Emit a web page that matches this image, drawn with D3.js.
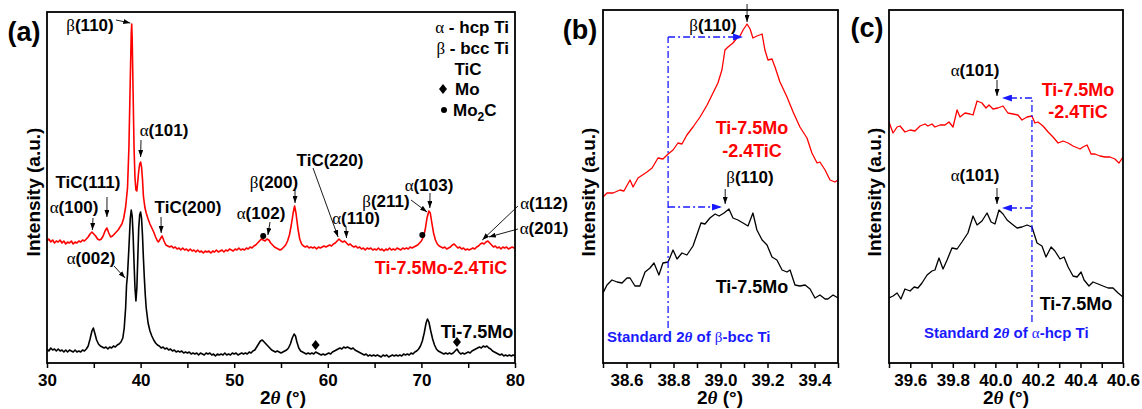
<!DOCTYPE html>
<html>
<head>
<meta charset="utf-8">
<script src="https://cdn.jsdelivr.net/npm/d3@7/dist/d3.min.js"></script>
<style>
  body { margin: 0; background: #fff; }
  text { font-family: "Liberation Sans", Arial, sans-serif; font-weight: bold; }
</style>
</head>
<body>
<script>
// ---- data: [2theta, intensity (a.u.)] ----
const redA = [[30.0,122],[30.2,124],[30.4,121],[30.6,123],[30.8,120],[31.0,122],[31.2,121],[31.4,123],[31.6,120],[31.8,122],[32.0,119],[32.2,121],[32.4,120],[32.6,122],[32.8,119],[33.0,121],[33.2,120],[33.4,122],[33.6,121],[33.8,123],[34.0,122],[34.2,124],[34.4,126],[34.6,129],[34.8,131],[35.0,129],[35.2,127],[35.4,124],[35.6,123],[35.8,124],[36.0,127],[36.2,132],[36.4,135],[36.6,130],[36.8,126],[37.0,127],[37.2,129],[37.4,131],[37.6,133],[37.8,136],[38.0,139],[38.2,145],[38.4,156],[38.6,175],[38.75,215],[38.9,285],[39.0,330],[39.05,339],[39.1,325],[39.2,270],[39.3,215],[39.4,185],[39.5,173],[39.6,172],[39.7,182],[39.8,192],[39.9,199],[40.0,201],[40.1,196],[40.2,184],[40.3,167],[40.45,156],[40.6,150],[40.8,144],[41.0,139],[41.2,135],[41.4,131],[41.6,126],[41.8,122],[41.9,121],[42.1,124],[42.3,127],[42.5,122],[42.7,118],[42.9,117],[43.1,116],[43.3,117],[43.5,115],[43.7,116],[43.9,114],[44.1,115],[44.3,113],[44.5,115],[44.7,113],[44.9,114],[45.1,112],[45.3,114],[45.5,112],[45.7,113],[45.9,111],[46.1,113],[46.3,111],[46.5,112],[46.7,110],[46.9,112],[47.1,111],[47.3,112],[47.5,110],[47.7,112],[47.9,111],[48.1,113],[48.3,111],[48.5,112],[48.7,113],[48.9,111],[49.1,113],[49.3,112],[49.5,114],[49.7,113],[49.9,112],[50.1,114],[50.3,113],[50.5,115],[50.7,113],[50.9,114],[51.1,113],[51.3,115],[51.5,114],[51.7,116],[51.9,115],[52.1,117],[52.3,118],[52.5,120],[52.7,122],[52.9,124],[53.1,123],[53.3,122],[53.5,124],[53.7,123],[53.9,120],[54.1,118],[54.3,116],[54.5,115],[54.7,114],[54.9,113],[55.1,114],[55.3,116],[55.5,118],[55.7,122],[55.9,128],[56.1,138],[56.3,150],[56.45,157],[56.6,150],[56.8,135],[57.0,124],[57.2,119],[57.4,117],[57.6,116],[57.8,117],[58.0,115],[58.2,116],[58.4,115],[58.6,116],[58.8,114],[59.0,116],[59.2,115],[59.4,116],[59.6,117],[59.8,116],[60.0,117],[60.2,118],[60.4,117],[60.6,119],[60.8,120],[61.0,122],[61.2,124],[61.4,122],[61.6,121],[61.8,122],[62.0,120],[62.2,118],[62.4,119],[62.6,117],[62.8,116],[63.0,117],[63.2,115],[63.4,116],[63.6,114],[63.8,115],[64.0,113],[64.2,115],[64.4,114],[64.6,115],[64.8,113],[65.0,114],[65.2,113],[65.4,115],[65.6,113],[65.8,114],[66.0,112],[66.2,114],[66.4,113],[66.6,115],[66.8,113],[67.0,114],[67.2,113],[67.4,115],[67.6,114],[67.8,113],[68.0,115],[68.2,114],[68.4,115],[68.6,114],[68.8,116],[69.0,115],[69.2,116],[69.4,117],[69.6,118],[69.8,120],[70.0,122],[70.2,126],[70.4,133],[70.6,145],[70.8,152],[70.95,150],[71.1,141],[71.3,130],[71.5,123],[71.7,119],[71.9,117],[72.1,116],[72.3,115],[72.5,116],[72.7,114],[72.9,115],[73.1,116],[73.3,118],[73.5,119],[73.7,117],[73.9,115],[74.1,116],[74.3,114],[74.5,115],[74.7,113],[74.9,114],[75.1,113],[75.3,114],[75.5,115],[75.7,114],[75.9,116],[76.1,117],[76.3,119],[76.5,120],[76.7,119],[76.9,121],[77.1,122],[77.3,120],[77.5,118],[77.7,116],[77.9,117],[78.1,115],[78.3,116],[78.5,114],[78.7,116],[78.9,115],[79.1,116],[79.3,114],[79.5,115],[79.7,116],[79.9,115],[80.0,116]];

const blackA = [[30.0,14],[30.2,12],[30.4,15],[30.6,13],[30.8,14],[31.0,12],[31.2,14],[31.4,12],[31.6,13],[31.8,11],[32.0,13],[32.2,11],[32.4,13],[32.6,12],[32.8,11],[33.0,13],[33.2,11],[33.4,12],[33.6,11],[33.8,13],[34.0,12],[34.2,14],[34.4,17],[34.6,24],[34.8,32],[34.95,35],[35.1,30],[35.3,23],[35.5,19],[35.7,17],[35.9,16],[36.1,15],[36.3,16],[36.5,14],[36.7,16],[36.9,15],[37.1,17],[37.3,16],[37.5,18],[37.7,19],[37.9,21],[38.1,25],[38.25,35],[38.4,55],[38.5,78],[38.6,88],[38.75,115],[38.9,145],[39.0,153],[39.1,147],[39.2,128],[39.3,100],[39.4,75],[39.5,62],[39.6,75],[39.7,105],[39.8,135],[39.9,148],[40.0,151],[40.1,145],[40.2,128],[40.3,105],[40.4,85],[40.5,68],[40.6,55],[40.8,40],[41.0,32],[41.2,27],[41.4,23],[41.6,20],[41.8,18],[42.0,17],[42.2,15],[42.4,16],[42.6,14],[42.8,15],[43.0,13],[43.2,14],[43.4,12],[43.6,13],[43.8,11],[44.0,12],[44.2,11],[44.4,12],[44.6,10],[44.8,11],[45.0,10],[45.2,11],[45.4,9],[45.6,10],[45.8,9],[46.0,10],[46.2,8],[46.4,10],[46.6,9],[46.8,8],[47.0,10],[47.2,9],[47.4,10],[47.6,8],[47.8,9],[48.0,7],[48.2,9],[48.4,8],[48.6,9],[48.8,8],[49.0,10],[49.2,8],[49.4,9],[49.6,8],[49.8,10],[50.0,9],[50.2,10],[50.4,8],[50.6,9],[50.8,10],[51.0,9],[51.2,10],[51.4,9],[51.6,11],[51.8,10],[52.0,12],[52.2,13],[52.4,16],[52.6,19],[52.8,22],[53.0,23],[53.2,21],[53.4,19],[53.6,17],[53.8,15],[54.0,13],[54.2,12],[54.4,11],[54.6,12],[54.8,11],[55.0,10],[55.2,11],[55.4,12],[55.6,13],[55.8,15],[56.0,19],[56.2,25],[56.4,29],[56.55,27],[56.7,21],[56.9,15],[57.1,12],[57.3,11],[57.5,10],[57.7,9],[57.9,10],[58.1,9],[58.3,10],[58.5,9],[58.7,11],[58.9,10],[59.1,9],[59.3,8],[59.5,9],[59.7,8],[59.9,9],[60.1,10],[60.3,9],[60.5,11],[60.7,12],[60.9,13],[61.1,14],[61.3,15],[61.5,14],[61.7,16],[61.9,15],[62.1,16],[62.3,15],[62.5,14],[62.7,15],[62.9,13],[63.1,12],[63.3,11],[63.5,10],[63.7,9],[63.9,8],[64.1,9],[64.3,7],[64.5,8],[64.7,7],[64.9,8],[65.1,7],[65.3,8],[65.5,7],[65.7,6],[65.9,8],[66.1,7],[66.3,8],[66.5,6],[66.7,7],[66.9,8],[67.1,7],[67.3,8],[67.5,7],[67.7,8],[67.9,7],[68.1,9],[68.3,8],[68.5,9],[68.7,8],[68.9,10],[69.1,9],[69.3,11],[69.5,12],[69.7,14],[69.9,17],[70.1,22],[70.3,30],[70.5,40],[70.65,44],[70.8,41],[71.0,32],[71.2,24],[71.4,18],[71.6,14],[71.8,12],[72.0,11],[72.2,10],[72.4,9],[72.6,10],[72.8,9],[73.0,10],[73.2,9],[73.4,10],[73.6,12],[73.8,14],[74.0,11],[74.2,9],[74.4,10],[74.6,9],[74.8,10],[75.0,11],[75.2,10],[75.4,12],[75.6,13],[75.8,14],[76.0,15],[76.2,16],[76.4,15],[76.6,17],[76.8,16],[77.0,17],[77.2,15],[77.4,14],[77.6,12],[77.8,11],[78.0,10],[78.2,9],[78.4,8],[78.6,9],[78.8,7],[79.0,8],[79.2,7],[79.4,8],[79.6,7],[79.8,8],[80.0,7]];

const redB = [[38.500,166],[38.517,170],[38.543,170],[38.572,173],[38.589,172],[38.615,183],[38.628,176],[38.649,185],[38.687,191],[38.709,195],[38.734,205],[38.755,204],[38.777,209],[38.798,213],[38.819,220],[38.836,219],[38.857,228],[38.883,236],[38.913,246],[38.943,258],[38.968,270],[38.989,280],[39.006,293],[39.019,313],[39.032,316],[39.053,320],[39.070,325],[39.083,327],[39.096,333],[39.113,339],[39.126,334],[39.138,325],[39.155,327],[39.177,329],[39.189,313],[39.202,303],[39.219,304],[39.232,296],[39.253,281],[39.283,266],[39.309,251],[39.338,236],[39.368,225],[39.389,210],[39.411,200],[39.423,201],[39.445,193],[39.466,183],[39.487,181],[39.500,183]];

const blackB = [[38.500,70],[38.517,78],[38.538,83],[38.560,81],[38.581,80],[38.602,85],[38.615,85],[38.636,77],[38.657,77],[38.679,91],[38.700,95],[38.717,100],[38.738,88],[38.755,100],[38.777,101],[38.798,113],[38.815,104],[38.836,110],[38.857,108],[38.883,117],[38.917,140],[38.934,139],[38.955,145],[38.977,149],[38.994,147],[39.015,150],[39.036,154],[39.053,145],[39.074,143],[39.096,140],[39.117,137],[39.138,150],[39.155,133],[39.177,123],[39.198,118],[39.219,106],[39.240,103],[39.262,93],[39.283,91],[39.296,93],[39.317,78],[39.338,77],[39.360,78],[39.381,74],[39.402,65],[39.423,68],[39.445,64],[39.457,64],[39.479,68],[39.500,65]];

const redC = [[39.500,241],[39.519,230],[39.538,236],[39.552,237],[39.575,231],[39.599,233],[39.622,232],[39.646,237],[39.669,239],[39.683,237],[39.702,239],[39.716,236],[39.740,238],[39.763,238],[39.782,241],[39.801,236],[39.820,253],[39.834,246],[39.857,250],[39.881,249],[39.895,248],[39.914,262],[39.937,260],[39.956,255],[39.970,258],[39.989,254],[40.012,255],[40.036,257],[40.059,250],[40.083,249],[40.106,248],[40.125,243],[40.149,246],[40.172,247],[40.186,240],[40.200,241],[40.224,237],[40.248,231],[40.271,226],[40.295,220],[40.318,222],[40.342,220],[40.365,217],[40.398,214],[40.412,216],[40.431,218],[40.450,209],[40.468,209],[40.492,207],[40.515,206],[40.539,206],[40.562,204],[40.581,200],[40.600,206]];

const blackC = [[39.500,65],[39.519,67],[39.538,70],[39.556,64],[39.575,74],[39.599,72],[39.618,76],[39.636,75],[39.655,80],[39.679,88],[39.702,92],[39.716,93],[39.735,105],[39.754,94],[39.773,103],[39.796,115],[39.820,114],[39.843,121],[39.871,130],[39.895,147],[39.914,138],[39.937,142],[39.961,150],[39.980,141],[39.998,139],[40.017,153],[40.036,149],[40.055,143],[40.078,139],[40.102,135],[40.125,136],[40.149,138],[40.172,136],[40.196,120],[40.219,117],[40.238,106],[40.262,116],[40.280,112],[40.304,104],[40.323,106],[40.342,96],[40.365,87],[40.384,86],[40.403,91],[40.417,83],[40.440,77],[40.459,81],[40.483,79],[40.506,77],[40.530,75],[40.553,75],[40.577,70],[40.600,66]];

// phase markers in panel (a)
const mo2cDots = [[53.1,125],[70.1,126]];
const moDiamonds = [[58.7,15],[73.8,18]];

// standard peak positions (2theta) and shift arrows
const stdBeta = 38.777, stdAlpha = 40.172;

// axis ticks
const ticksA = [30,35,40,45,50,55,60,65,70,75,80];
const labelsA = [30,40,50,60,70,80];
const ticksB = [38.5,38.6,38.7,38.8,38.9,39.0,39.1,39.2,39.3,39.4,39.5];
const labelsB = ['38.6','38.8','39.0','39.2','39.4'];
const ticksC = [39.5,39.6,39.7,39.8,39.9,40.0,40.1,40.2,40.3,40.4,40.5,40.6];
const labelsC = ['39.6','39.8','40.0','40.2','40.4','40.6'];

const RED = '#ff0000', BLUE = '#1a1aff';
const width = 1142, height = 409;

let svg = d3.select('body').append('svg')
    .attr('width', width)
    .attr('height', height);

let defs = svg.append('defs');
function arrowMarker(id, color, w, h) {
  defs.append('marker')
      .attr('id', id)
      .attr('markerUnits', 'userSpaceOnUse')
      .attr('markerWidth', w).attr('markerHeight', h)
      .attr('refX', w).attr('refY', h / 2)
      .attr('orient', 'auto')
      .append('path')
      .attr('d', `M0,0 L${w},${h/2} L0,${h} Z`)
      .attr('fill', color);
}
arrowMarker('ah', '#000', 7, 5);
arrowMarker('ahb', BLUE, 10, 7);

// text with greek letters in a serif face
function richText(g, str, x, y, opts = {}) {
  let t = g.append('text')
      .attr('x', x).attr('y', y)
      .attr('dy', opts.dy || '0.35em')
      .attr('text-anchor', opts.anchor || 'middle')
      .attr('fill', opts.color || '#000')
      .style('font-size', (opts.size || 17) + 'px');
  str.split(/([αβθ])/).forEach(p => {
    if (!p) return;
    let s = t.append('tspan').text(p);
    if (/[αβθ]/.test(p)) {
      s.style('font-family', '"Liberation Serif", "DejaVu Serif", serif').style('font-weight', 'normal');
      if (p === 'θ') s.style('font-style', 'italic').style('font-weight', 'bold');
    }
  });
  return t;
}

function drawPanel(cfg) {
  let x = d3.scaleLinear().domain(cfg.xDomain).range([cfg.left, cfg.right]);
  let y = d3.scaleLinear().domain(cfg.yDomain).range([cfg.bottom, cfg.top]);
  let g = svg.append('g');

  let line = d3.line().x(d => x(d[0])).y(d => y(d[1]));

  g.append('clipPath').attr('id', 'clip' + cfg.name)
      .append('rect')
      .attr('x', cfg.left).attr('y', cfg.top)
      .attr('width', cfg.right - cfg.left).attr('height', cfg.bottom - cfg.top);

  cfg.series.forEach(s => {
    g.append('path')
        .datum(s.data)
        .attr('clip-path', `url(#clip${cfg.name})`)
        .attr('fill', 'none')
        .attr('stroke', s.color)
        .attr('stroke-width', cfg.lw)
        .attr('stroke-linejoin', 'round')
        .attr('d', line);
  });

  // x axis
  let axis = d3.axisBottom(x)
      .tickValues(cfg.ticks)
      .tickSizeOuter(0)
      .tickSize(5)
      .tickFormat(d => {
        let s = cfg.fmt(d);
        return cfg.labels.map(String).includes(s) ? s : '';
      });
  let ax = g.append('g')
      .attr('transform', `translate(0,${cfg.bottom})`)
      .call(axis);
  ax.select('.domain').remove();
  ax.selectAll('line').attr('stroke', '#000').attr('stroke-width', 1.5);
  ax.selectAll('text')
      .attr('y', 11)
      .style('font-size', '17px')
      .style('font-family', '"Liberation Sans", Arial, sans-serif')
      .style('font-weight', 'bold')
      .attr('fill', '#000');

  // frame
  g.append('rect')
      .attr('x', cfg.left).attr('y', cfg.top)
      .attr('width', cfg.right - cfg.left).attr('height', cfg.bottom - cfg.top)
      .attr('fill', 'none').attr('stroke', '#000').attr('stroke-width', 1.8);

  // axis titles
  richText(g, '2θ (°)', cfg.xTitle, 404, { size: 19, dy: '0em' });
  g.append('text')
      .attr('transform', `translate(${cfg.yTitle},192) rotate(-90)`)
      .attr('text-anchor', 'middle')
      .attr('dy', '0.35em')
      .style('font-size', '19px')
      .text('Intensity (a.u.)');
  g.append('text')
      .attr('x', cfg.tag[0]).attr('y', cfg.tag[1])
      .attr('text-anchor', 'middle').attr('dy', '0.35em')
      .style('font-size', '27px')
      .text(cfg.tagText);

  return { x, y, g };
}

function arrow(g, x1, y1, x2, y2, opts = {}) {
  g.append('line')
      .attr('x1', x1).attr('y1', y1).attr('x2', x2).attr('y2', y2)
      .attr('stroke', opts.color || '#000')
      .attr('stroke-width', opts.w || 0.9)
      .attr('stroke-dasharray', opts.dash || null)
      .attr('marker-end', opts.head === false ? null : `url(#${opts.marker || 'ah'})`);
}

// ---------------- panel (a) ----------------
let A = drawPanel({
  name: 'A', left: 47, right: 515, top: 12, bottom: 363,
  xDomain: [30, 80], yDomain: [0, 351],
  ticks: ticksA, labels: labelsA, fmt: d => String(d),
  series: [{ data: blackA, color: '#000' }, { data: redA, color: RED }],
  lw: 1.6, xTitle: 283, yTitle: 33, tag: [24, 32], tagText: '(a)'
});

A.g.selectAll('.dot').data(mo2cDots).enter().append('circle')
    .attr('cx', d => A.x(d[0])).attr('cy', d => A.y(d[1]) - 2).attr('r', 3).attr('fill', '#000');
A.g.selectAll('.dia').data(moDiamonds).enter().append('path')
    .attr('transform', d => `translate(${A.x(d[0])},${A.y(d[1]) - 3})`)
    .attr('d', 'M0,-5 L4,0 L0,5 L-4,0 Z').attr('fill', '#000');

const annA = [
  { t: 'β(110)', at: [90, 25], from: [116, 20], to: [38.9, 340] },
  { t: 'α(101)', at: [164, 130], from: [141, 140], to: [40.0, 206] },
  { t: 'TiC(111)', at: [88, 182], from: [107, 197], to: [36.4, 146] },
  { t: 'α(100)', at: [74, 207], from: [93, 218], to: [34.85, 133] },
  { t: 'TiC(200)', at: [188, 207], from: [161, 217], to: [42.2, 130] },
  { t: 'α(102)', at: [261, 213], from: [270, 222], to: [53.6, 128] },
  { t: 'β(200)', at: [274, 182], from: [295, 190], to: [56.5, 160] },
  { t: 'TiC(220)', at: [330, 160], from: [313, 168], to: [61.1, 126] },
  { t: 'α(110)', at: [356, 218], from: [346, 227], to: [62.0, 125] },
  { t: 'β(211)', at: [386, 201], from: [411, 200], to: [70.6, 151] },
  { t: 'α(103)', at: [429, 185], from: [430, 193], to: [70.9, 155] },
  { t: 'α(112)', at: [544, 203], from: [518, 206], to: [76.5, 123] },
  { t: 'α(201)', at: [544, 228], from: [518, 229], to: [77.2, 126] },
  { t: 'α(002)', at: [91, 258], from: [114, 266], to: [38.35, 85] }
];
annA.forEach(a => {
  richText(A.g, a.t, a.at[0], a.at[1]);
  arrow(A.g, a.from[0], a.from[1], A.x(a.to[0]), A.y(a.to[1]));
});

richText(A.g, 'Ti-7.5Mo-2.4TiC', 441, 268, { size: 18, color: RED });
richText(A.g, 'Ti-7.5Mo', 477, 332, { size: 18 });

// legend
richText(A.g, 'α - hcp Ti', 509, 27, { anchor: 'end' });
richText(A.g, 'β - bcc Ti', 509, 48, { anchor: 'end' });
richText(A.g, 'TiC', 468, 69);
A.g.append('path').attr('transform', 'translate(443,89)')
    .attr('d', 'M0,-5 L4,0 L0,5 L-4,0 Z').attr('fill', '#000');
richText(A.g, 'Mo', 455, 89, { anchor: 'start' });
A.g.append('circle').attr('cx', 444).attr('cy', 110).attr('r', 3).attr('fill', '#000');
let mo2c = A.g.append('text').attr('x', 453).attr('y', 110).attr('dy', '0.35em').style('font-size', '17px');
mo2c.append('tspan').text('Mo');
mo2c.append('tspan').text('2').attr('dy', 5).style('font-size', '12px');
mo2c.append('tspan').text('C').attr('dy', -5);

// ---------------- panel (b) ----------------
let B = drawPanel({
  name: 'B', left: 603, right: 838, top: 10, bottom: 363,
  xDomain: [38.5, 39.5], yDomain: [0, 353],
  ticks: ticksB, labels: labelsB, fmt: d => d.toFixed(1),
  series: [{ data: redB, color: RED }, { data: blackB, color: '#000' }],
  lw: 1.3, xTitle: 720, yTitle: 588, tag: [580, 30], tagText: '(b)'
});
{
  let xs = B.x(stdBeta);
  arrow(B.g, xs, B.y(35), xs, B.y(326), { color: BLUE, w: 1.3, dash: '7,3,2,3', head: false });
  arrow(B.g, xs, B.y(326), B.x(39.096), B.y(326), { color: BLUE, w: 1.3, dash: '7,3,2,3', marker: 'ahb' });
  arrow(B.g, xs, B.y(156), B.x(39.006), B.y(156), { color: BLUE, w: 1.3, dash: '7,3,2,3', marker: 'ahb' });
  richText(B.g, 'β(110)', 713, 25);
  arrow(B.g, B.x(39.113), 4, B.x(39.113), 22);
  richText(B.g, 'Ti-7.5Mo', 752, 128, { size: 18, color: RED });
  richText(B.g, '-2.4TiC', 752, 151, { size: 18, color: RED });
  richText(B.g, 'β(110)', 750, 177);
  arrow(B.g, B.x(39.02), 189, B.x(39.02), 204);
  richText(B.g, 'Ti-7.5Mo', 752, 287, { size: 18 });
  richText(B.g, 'Standard 2θ of β-bcc Ti', 607, 337, { size: 15, color: BLUE, anchor: 'start' });
}

// ---------------- panel (c) ----------------
let C = drawPanel({
  name: 'C', left: 889, right: 1123, top: 10, bottom: 363,
  xDomain: [39.5, 40.6], yDomain: [0, 353],
  ticks: ticksC, labels: labelsC, fmt: d => d.toFixed(1),
  series: [{ data: redC, color: RED }, { data: blackC, color: '#000' }],
  lw: 1.3, xTitle: 1006, yTitle: 874, tag: [867, 28], tagText: '(c)'
});
{
  let xs = C.x(stdAlpha);
  arrow(C.g, xs, C.y(41), xs, C.y(265), { color: BLUE, w: 1.3, dash: '7,3,2,3', head: false });
  arrow(C.g, xs, C.y(265), C.x(40.031), C.y(265), { color: BLUE, w: 1.3, dash: '7,3,2,3', marker: 'ahb' });
  arrow(C.g, xs, C.y(155), C.x(40.031), C.y(155), { color: BLUE, w: 1.3, dash: '7,3,2,3', marker: 'ahb' });
  richText(C.g, 'α(101)', 975, 70);
  arrow(C.g, 997, 80, 997, 96);
  richText(C.g, 'Ti-7.5Mo', 1078, 90, { size: 18, color: RED });
  richText(C.g, '-2.4TiC', 1078, 112, { size: 18, color: RED });
  richText(C.g, 'α(101)', 975, 175);
  arrow(C.g, 997, 188, 997, 204);
  richText(C.g, 'Ti-7.5Mo', 1076, 304, { size: 18 });
  richText(C.g, 'Standard 2θ  of α-hcp Ti', 924, 333, { size: 15, color: BLUE, anchor: 'start' });
}
</script>
</body>
</html>
